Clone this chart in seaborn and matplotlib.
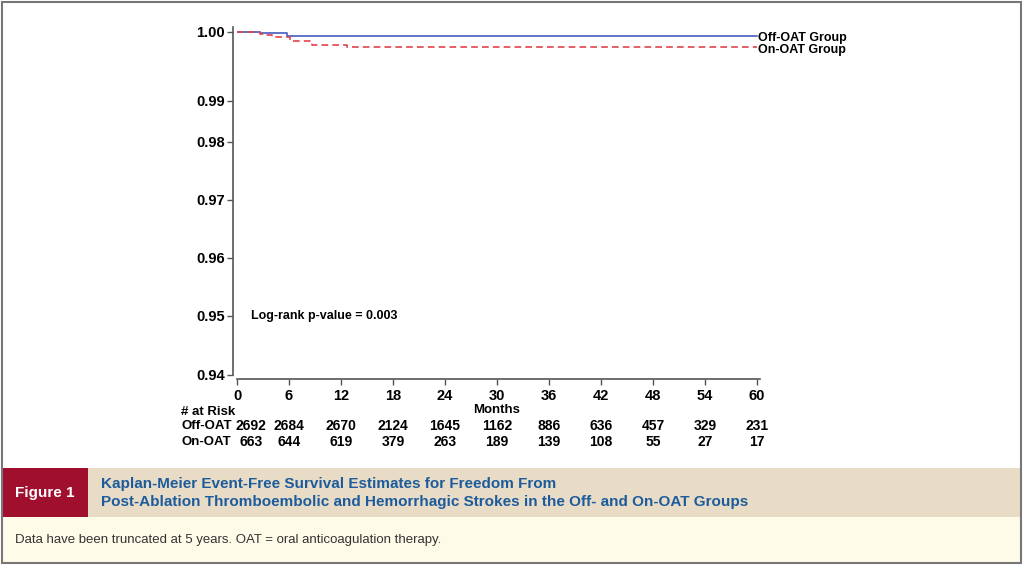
import numpy as np
import pandas as pd
import matplotlib
matplotlib.use("Agg")
import matplotlib.pyplot as plt
from matplotlib.patches import Rectangle
import seaborn as sns

# Kaplan-Meier step values
off_months = [0, 2.7, 4.5, 5.8, 60]
off_surv = [1.0, 0.9999, 0.9998, 0.99942, 0.99942]
on_months = [0, 2.7, 3.3, 4.0, 6.1, 8.7, 12.7, 60]
on_surv = [1.0, 0.9997, 0.9995, 0.9993, 0.9987, 0.9981, 0.99775, 0.99775]

month_ticks = [0, 6, 12, 18, 24, 30, 36, 42, 48, 54, 60]
y_ticks = [0.94, 0.95, 0.96, 0.97, 0.98, 0.99, 1.00]
risk_off = [2692, 2684, 2670, 2124, 1645, 1162, 886, 636, 457, 329, 231]
risk_on = [663, 644, 619, 379, 263, 189, 139, 108, 55, 27, 17]

sns.set_style("white")
plt.rcParams["font.family"] = ["Liberation Sans", "DejaVu Sans"]
plt.rcParams["text.color"] = "black"

# uneven y axis of the original (pixel offsets of each tick)
tick_pos = np.array([0, 59, 117, 175, 233, 274, 343, 350], dtype=float)
tick_val = np.array(y_ticks + [1.001])


def fwd(y):
    return np.interp(y, tick_val, tick_pos)


def inv(t):
    return np.interp(t, tick_pos, tick_val)


fig = plt.figure(figsize=(10.24, 5.65), dpi=100)
ax = fig.add_axes([237 / 1024, 1 - 375 / 565, (760 - 237) / 1024, 348 / 565])

df_off = pd.DataFrame({"Months": off_months, "Survival": off_surv})
df_on = pd.DataFrame({"Months": on_months, "Survival": on_surv})
sns.lineplot(data=df_off, x="Months", y="Survival", ax=ax, color="#5468c4",
             lw=1.3, drawstyle="steps-post", estimator=None)
sns.lineplot(data=df_on, x="Months", y="Survival", ax=ax, color="#e0434c",
             lw=1.2, linestyle=(0, (4, 2.5)), drawstyle="steps-post", estimator=None)

ax.set_yscale("function", functions=(fwd, inv))
ax.set_ylim(0.94, 1.0007)
ax.set_xlim(0, 60.35)
ax.set_xlabel("")
ax.set_ylabel("")
ax.tick_params(axis="both", direction="out", length=4, width=1, color="#555555",
               labelcolor="black", left=True, bottom=True, pad=1.5)
ax.tick_params(axis="x", pad=3)
ax.set_yticks(y_ticks)
ax.set_yticklabels([f"{v:.2f}" for v in y_ticks])
ax.set_xticks(month_ticks)
ax.set_xticklabels([str(m) for m in month_ticks])
sns.despine(ax=ax)
ax.spines["left"].set_position(("outward", 3))
ax.spines["bottom"].set_position(("outward", 3))
for s in ["left", "bottom"]:
    ax.spines[s].set_color("#555555")
    ax.spines[s].set_linewidth(1.2)

# group labels at the line ends
ax.text(60.1, off_surv[-1] - 0.0003, "Off-OAT Group", fontsize=9, fontweight="bold",
        va="center", ha="left", clip_on=False)
ax.text(60.1, on_surv[-1] - 0.0003, "On-OAT Group", fontsize=9, fontweight="bold",
        va="center", ha="left", clip_on=False)
ax.text(1.6, 0.95, "Log-rank p-value = 0.003", fontsize=9, fontweight="bold",
        va="center", ha="left")

# risk table
trans = ax.get_xaxis_transform()
fig.text(181 / 1024, 1 - 412 / 565, "# at Risk", fontsize=9.5, fontweight="bold", va="center")
fig.text(181 / 1024, 1 - 426 / 565, "Off-OAT", fontsize=9.5, fontweight="bold", va="center")
fig.text(181 / 1024, 1 - 442 / 565, "On-OAT", fontsize=9.5, fontweight="bold", va="center")
ax.text(30, -(410 - 375) / 348, "Months", transform=trans, fontsize=9.5, fontweight="bold",
        ha="center", va="center")
for i, m in enumerate(month_ticks):
    xm = 1.6 if m == 0 else m
    ax.text(xm, -(426 - 375) / 348, str(risk_off[i]), transform=trans, fontsize=10,
            fontweight="bold", ha="center", va="center")
    ax.text(xm, -(442 - 375) / 348, str(risk_on[i]), transform=trans, fontsize=10,
            fontweight="bold", ha="center", va="center")

# caption panel
W, H = 1024, 565
fig.patches.append(Rectangle((2 / W, 1 - 517 / H), 1019 / W, 49 / H, transform=fig.transFigure,
                             facecolor="#e9dcc6", edgecolor="none", zorder=0))
fig.patches.append(Rectangle((2 / W, 1 - 517 / H), 86 / W, 49 / H, transform=fig.transFigure,
                             facecolor="#a0102e", edgecolor="none", zorder=1))
fig.patches.append(Rectangle((2 / W, 1 - 562 / H), 1019 / W, 45 / H, transform=fig.transFigure,
                             facecolor="#fffbe9", edgecolor="none", zorder=0))
fig.patches.append(Rectangle((2 / W, 2 / H), 1019 / W, 561 / H, transform=fig.transFigure,
                             facecolor="none", edgecolor="#777777", lw=1.5, zorder=2))

fig.text(45 / W, 1 - 493 / H, "Figure 1", color="white", fontsize=11, fontweight="bold",
         ha="center", va="center")
fig.text(101 / W, 1 - 484 / H, "Kaplan-Meier Event-Free Survival Estimates for Freedom From",
         color="#1c5b9c", fontsize=11, fontweight="bold", va="center")
fig.text(101 / W, 1 - 502 / H,
         "Post-Ablation Thromboembolic and Hemorrhagic Strokes in the Off- and On-OAT Groups",
         color="#1c5b9c", fontsize=11, fontweight="bold", va="center")
fig.text(15 / W, 1 - 540 / H,
         "Data have been truncated at 5 years. OAT = oral anticoagulation therapy.",
         color="#333333", fontsize=9.5, va="center")

# bold tick labels, applied last so nothing resets them
for lab in ax.get_xticklabels() + ax.get_yticklabels():
    lab.set_fontweight("bold")
    lab.set_fontsize(10.5)

fig.savefig("out.png", dpi=100)
